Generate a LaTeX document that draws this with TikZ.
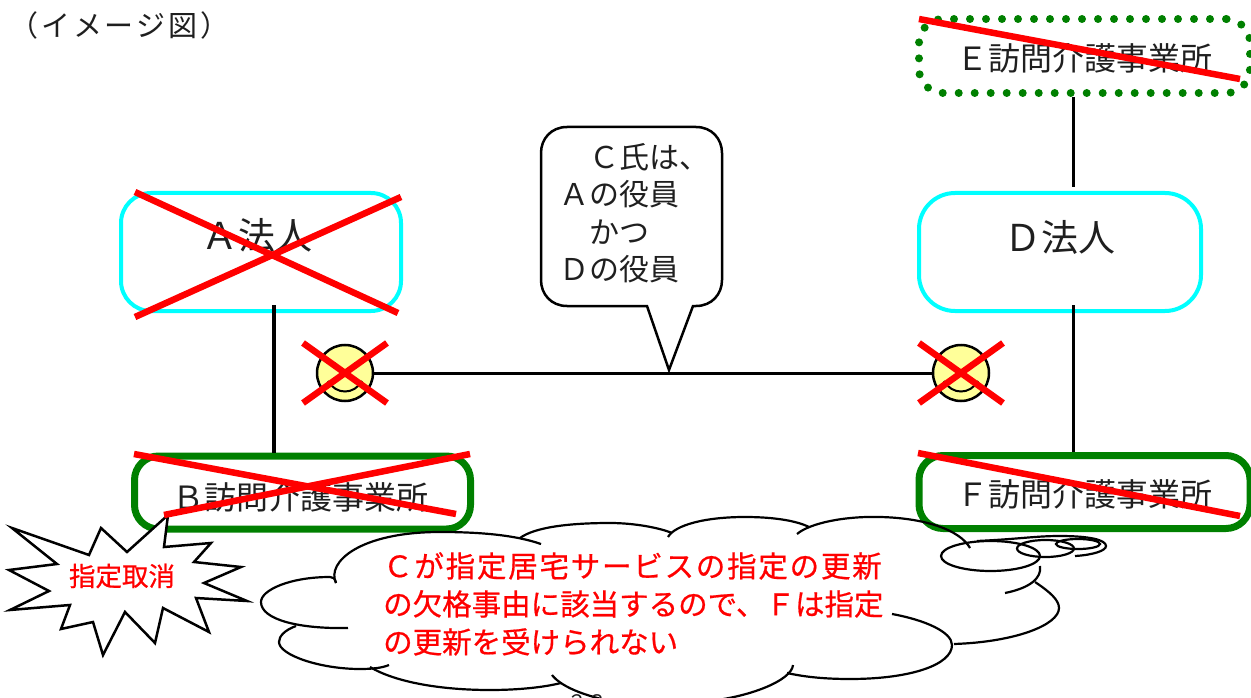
\documentclass[tikz,border=0pt]{standalone}
\usepackage{fontspec}
\setmainfont{Noto Sans CJK JP}
\definecolor{boxcyan}{rgb}{0.0, 1.0, 1.0}
\definecolor{boxgreen}{rgb}{0.0, 0.5, 0.0}
\definecolor{smileyellow}{rgb}{1.0, 1.0, 0.6}
\definecolor{inkgrey}{rgb}{0.12, 0.12, 0.12}
\newcommand{\boxtext}[2]{\raisebox{#1}[0pt][0pt]{#2}}
\tikzset{
  houjin/.style={draw=boxcyan, line width=4pt, rounded corners=30pt, minimum width=280pt, minimum height=118pt, inner sep=0pt, text=inkgrey, font=\fontsize{37}{37}\selectfont},
  jigyo/.style={draw=boxgreen, line width=7pt, rounded corners=24pt, minimum height=73pt, inner sep=0pt, text=inkgrey, font=\fontsize{32}{32}\selectfont},
  jigyodot/.style={draw=boxgreen, line width=8pt, line cap=round, dash pattern=on 0pt off 16pt, rounded corners=24pt, minimum height=74pt, inner sep=0pt, text=inkgrey, font=\fontsize{32}{32}\selectfont},
  link/.style={draw=black, line width=3pt},
  strike/.style={draw=red, line width=6.5pt},
  smile/.style={draw=black, fill=smileyellow, circle, line width=2.5pt, minimum size=56pt, inner sep=0pt},
  cloudline/.style={draw=black, line width=2.2pt},
  redtext/.style={text=red, inner sep=0pt}
}
\begin{document}
\begin{tikzpicture}[x=1pt,y=-1pt]
        \useasboundingbox (0,0) rectangle (1251,698);
        \clip (0,0) rectangle (1251,698);
        \node[text=inkgrey, anchor=west, inner sep=0pt, font=\fontsize{29}{29}\selectfont\addfontfeature{LetterSpace=10}] (title) at (9,25) {（イメージ図）};

        % Corporations
        \node[houjin] (A) at (261,252) {\boxtext{3pt}{\kern-8pt Ａ法人}};
        \node[houjin, rounded corners=36pt, minimum width=282pt] (D) at (1060,252) {\boxtext{1pt}{Ｄ法人}};

        % Offices
        \node[jigyo, minimum width=336pt] (B) at (302.5,492.5) {\boxtext{-17pt}{\kern-4pt Ｂ訪問介護事業所}};
        \node[jigyo, minimum width=331pt] (F) at (1084.5,492) {\boxtext{-14pt}{Ｆ訪問介護事業所}};
        \node[jigyodot, minimum width=331pt] (E) at (1084.5,56) {\boxtext{-15pt}{Ｅ訪問介護事業所}};

        % Persons
        \node[smile] (smileL) at (345,373) {};
        \node[smile] (smileR) at (961,373) {};
        \foreach \f in {smileL, smileR} {
          \fill[black] ([shift={(-10,-8)}]\f.center) circle (2.5);
          \fill[black] ([shift={(10,-8)}]\f.center) circle (2.5);
          \draw[line width=2pt] ([shift={(-17,8)}]\f.center) .. controls +(8,14) and +(-8,14) .. ([shift={(17,8)}]\f.center);
        }

        % Links
        \coordinate (abtop) at (274,305);
        \coordinate (dftop) at (1073,305);
        \coordinate (edend) at (1073,187);
        \draw[link, line width=3.5pt] (abtop) -- (abtop |- B.north);
        \draw[link] (dftop) -- (dftop |- F.north);
        \draw[link] (edend) -- (edend |- E.south);
        \draw[link] (smileL) -- (smileR);

        % Speech bubble
        \draw[line width=2.5pt, fill=white] (669,370) -- (693,306) -- (696,306)
          .. controls (712,306) and (722,294) .. (722,280) -- (722,153)
          .. controls (722,139) and (712,127) .. (696,127) -- (567,127)
          .. controls (551,127) and (541,139) .. (541,153) -- (541,280)
          .. controls (541,294) and (551,306) .. (567,306) -- (647,306) -- cycle;
        \node[text=inkgrey, anchor=north west, inner sep=0pt, align=left, font=\fontsize{30}{37.5}\selectfont] (bubble) at (559,143) {　Ｃ氏は、\\Ａの役員\\　かつ\\Ｄの役員};

        % Burst
        \draw[line width=2.5pt, fill=white] (12,528) -- (89,555) -- (101,528) -- (127,552) -- (168,515) -- (164,547)
          -- (211,543) -- (194,562) -- (241,567) -- (204,583) -- (247,601) -- (196,598) -- (209,632) -- (163,608)
          -- (155,643) -- (125,612) -- (103,655) -- (93,622) -- (61,629) -- (70,605) -- (10,610) -- (49,591)
          -- (9,570) -- (57,564) -- cycle;
        \node[redtext, font=\fontsize{26.5}{26.5}\selectfont\addfontfeature{FakeBold=0.6}] (burst) at (122,576) {指定取消};

        % Cloud
        \draw[cloudline] (336,583) .. controls (326,562) and (360,532) .. (440,532) .. controls (480,532) and (515,535) .. (541,544);
        \draw[cloudline] (520,538) .. controls (535,527) and (570,523) .. (610,523) .. controls (635,523) and (660,528) .. (672,533);
        \draw[cloudline] (668,537) .. controls (675,525) and (705,517) .. (745,517) .. controls (775,517) and (797,521) .. (809,527);
        \draw[cloudline] (797,534) .. controls (810,523) and (845,516) .. (880,517) .. controls (925,518) and (960,530) .. (970,548);
        \draw[cloudline] (1040,566) .. controls (1042,578) and (1030,588) .. (1005,593);
        \draw[cloudline] (1035,582) .. controls (1050,592) and (1059,600) .. (1059,608) .. controls (1059,625) and (1015,642) .. (954,644);
        \draw[cloudline] (892,614) .. controls (925,620) and (952,632) .. (952,645) .. controls (952,665) and (910,679) .. (850,679) .. controls (825,679) and (805,677) .. (787,673);
        \draw[cloudline] (793,665) .. controls (792,680) and (750,698) .. (700,702);
        \draw[cloudline] (552,675) .. controls (562,688) and (590,698) .. (625,704);
        \draw[cloudline] (370,667) .. controls (395,682) and (440,690) .. (490,690) .. controls (520,690) and (545,687) .. (561,683);
        \draw[cloudline] (336,583) .. controls (335,578) and (333,577) .. (330,577) .. controls (290,577) and (261,590) .. (261,602) .. controls (261,620) and (300,629) .. (348,628);
        \draw[cloudline] (296,626) .. controls (285,630) and (279,636) .. (279,642) .. controls (279,655) and (320,669) .. (360,669) .. controls (372,669) and (382,668) .. (389,665);
        \draw[cloudline] (990.5,556) ellipse [x radius=49.5, y radius=15];
        \draw[cloudline] (1045.5,548.5) ellipse [x radius=28.5, y radius=8.5];
        \draw[cloudline] (1078,544) ellipse [x radius=22, y radius=5];
        \draw[cloudline] (977,541) .. controls (1020,539) and (1035,536) .. (1060,536) .. controls (1090,536) and (1106,540) .. (1106,546) .. controls (1106,551) and (1092,555) .. (1075,556);
        \node[redtext, anchor=north west, align=left, font=\fontsize{29.5}{38}\selectfont\addfontfeature{FakeBold=0.6}] (cloudtext) at (383,552) {{\addfontfeature{LetterSpace=6}Ｃが指定居宅サービスの指定の更新}\\の欠格事由に該当するので、Ｆは指定\\の更新を受けられない};

        % Page number
        \node[text=inkgrey, inner sep=0pt, font=\fontsize{20}{20}\selectfont] (pageno) at (587,702) {２３};

        % Crosses
        \draw[strike] (135,192) -- (398,313);
        \draw[strike] (401,197) -- (135,317);
        \draw[strike] (134,454) -- (456,514);
        \draw[strike] (470,454) -- (164,515);
        \draw[strike] (918,453) -- (1240,516);
        \draw[strike] (919,19) -- (1240,79);
        \draw[strike] (303,343) -- (387,403);
        \draw[strike] (387,343) -- (303,403);
        \draw[strike] (919,343) -- (1003,403);
        \draw[strike] (1003,343) -- (919,403);
\end{tikzpicture}
\end{document}
